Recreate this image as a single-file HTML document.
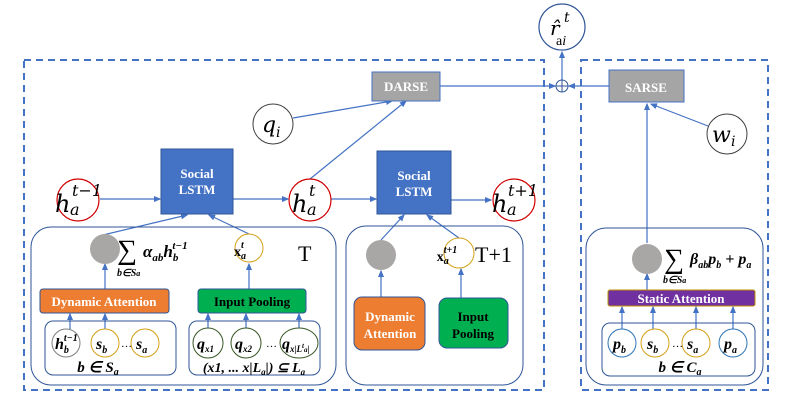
<!DOCTYPE html>
<html><head><meta charset="utf-8"><style>
html,body{margin:0;padding:0;background:#fff}
svg{display:block}
text{font-family:"Liberation Serif",serif}
.w{fill:#fff;font-weight:bold;text-anchor:middle}
.b{fill:#000;font-weight:bold;text-anchor:middle}
.m{font-style:italic;font-weight:bold;fill:#000}
.mi{font-family:"DejaVu Serif",serif;font-style:italic;fill:#000}
</style></head><body>
<svg width="787" height="404" viewBox="0 0 787 404" xmlns="http://www.w3.org/2000/svg">
<defs><marker id="a" markerWidth="6" markerHeight="6" refX="5" refY="3" orient="auto"><path d="M0,0.5 L6,3 L0,5.5z" fill="#4472c4"/></marker></defs>
<g fill="none" stroke="#4472c4" stroke-width="2" stroke-dasharray="7,5">
<rect x="24" y="60" width="520" height="330"/>
<rect x="581" y="60" width="187" height="330"/>
</g>
<g stroke="#4472c4" stroke-width="1.2" fill="none" marker-end="url(#a)">
<line x1="562" y1="80" x2="562" y2="52"/>
<line x1="440" y1="86" x2="555" y2="86"/>
<line x1="609" y1="86" x2="569" y2="86"/>
<line x1="647" y1="243" x2="647" y2="104"/>
<line x1="708" y1="126" x2="651" y2="104"/>
<line x1="293" y1="118" x2="392" y2="101"/>
<line x1="310" y1="179" x2="406" y2="101"/>
<line x1="100" y1="199" x2="160" y2="199"/>
<line x1="233" y1="199" x2="288" y2="199"/>
<line x1="331" y1="199" x2="376" y2="199"/>
<line x1="451" y1="200" x2="491" y2="200"/>
<line x1="103" y1="235" x2="187" y2="215"/>
<line x1="249" y1="234" x2="209" y2="215"/>
<line x1="381" y1="240" x2="404" y2="215"/>
<line x1="459" y1="238" x2="427" y2="215"/>
<line x1="105" y1="289" x2="105" y2="264"/>
<line x1="249" y1="289" x2="249" y2="264"/>
<line x1="381" y1="297" x2="381" y2="271"/>
<line x1="461" y1="298" x2="461" y2="269"/>
<line x1="647" y1="290" x2="647" y2="274"/>
<line x1="70" y1="329" x2="70" y2="314"/>
<line x1="105" y1="329" x2="105" y2="314"/>
<line x1="208" y1="329" x2="208" y2="314"/>
<line x1="246" y1="329" x2="246" y2="314"/>
<line x1="299" y1="329" x2="299" y2="314"/>
<line x1="622" y1="329" x2="622" y2="307"/>
<line x1="653" y1="329" x2="653" y2="307"/>
<line x1="696" y1="329" x2="696" y2="307"/>
<line x1="733" y1="329" x2="733" y2="307"/>
</g>
<circle cx="562" cy="27" r="23" fill="#fff" stroke="#2f5597" stroke-width="1.2"/>
<text x="550" y="35" class="mi" font-size="20">r̂</text><text x="564" y="22" class="mi" font-size="14">t</text><text x="556" y="45" font-family="Liberation Serif" font-size="14" fill="#000">a<tspan font-style="italic">i</tspan></text>
<circle cx="562" cy="86" r="6" fill="#fff" stroke="#2f5597"/><line x1="556" y1="86" x2="568" y2="86" stroke="#2f5597"/><line x1="562" y1="80" x2="562" y2="92" stroke="#2f5597"/>
<rect x="372" y="72" width="68" height="29" fill="#a5a5a5" stroke="#4472c4"/><text x="406" y="91" class="w" font-size="13">DARSE</text>
<rect x="609" y="70" width="75" height="32" fill="#a5a5a5" stroke="#4472c4"/><text x="646" y="92" class="w" font-size="13">SARSE</text>
<circle cx="727" cy="134" r="20" fill="#fff" stroke="#404040"/><text x="712" y="142" class="mi" font-size="22">w</text><text x="731" y="146" class="mi" font-size="14">i</text>
<circle cx="273" cy="124" r="20" fill="#fff" stroke="#404040"/><text x="262" y="132" class="mi" font-size="22">q</text><text x="276" y="137" class="mi" font-size="14">i</text>
<rect x="161" y="149" width="72" height="65" fill="#4472c4" stroke="#2f5597"/><text x="197" y="178" class="w" font-size="13">Social</text><text x="197" y="194" class="w" font-size="13">LSTM</text>
<rect x="377" y="151" width="74" height="63" fill="#4472c4" stroke="#2f5597"/><text x="414" y="180" class="w" font-size="13">Social</text><text x="414" y="196" class="w" font-size="13">LSTM</text>
<g fill="#fff" stroke="#d00000" stroke-width="1.2"><circle cx="78" cy="200" r="21"/><circle cx="310" cy="200" r="21"/><circle cx="514" cy="200" r="21"/></g>
<text x="55" y="212" class="mi" font-size="24">h</text><text x="70" y="215" class="mi" font-size="16">a</text><text x="72" y="196" class="mi" font-size="16">t−1</text>
<text x="292" y="212" class="mi" font-size="24">h</text><text x="307" y="215" class="mi" font-size="16">a</text><text x="309" y="196" class="mi" font-size="16">t</text>
<text x="492" y="212" class="mi" font-size="24">h</text><text x="507" y="215" class="mi" font-size="16">a</text><text x="508" y="196" class="mi" font-size="16">t+1</text>
<g fill="none" stroke="#2f5597" stroke-width="1"><rect x="31" y="227" width="305" height="158" rx="20"/><rect x="346" y="226" width="177" height="159" rx="20"/><rect x="586" y="228" width="177" height="157" rx="20"/>
<rect x="45" y="321" width="131" height="54" rx="8"/><rect x="189" y="321" width="131" height="54" rx="8"/><rect x="602" y="323" width="153" height="53" rx="8"/></g>
<g fill="#a9a6a6"><circle cx="105" cy="249" r="15"/><circle cx="381" cy="255" r="15"/><circle cx="647" cy="259" r="15"/></g>
<text x="117" y="259" font-size="28" fill="#000">∑</text><text x="117" y="276" class="m" font-size="10">b∈S<tspan font-size="8">a</tspan></text>
<text x="143" y="257" class="m" font-size="17">α<tspan font-size="11" dy="4">ab</tspan><tspan font-size="17" dy="-4">h</tspan><tspan font-size="11" dy="4">b</tspan><tspan font-size="11" dx="-6" dy="-12">t−1</tspan></text>
<text x="664" y="268" font-size="28" fill="#000">∑</text><text x="663" y="283" class="m" font-size="10">b∈S<tspan font-size="8">a</tspan></text>
<text x="690" y="264" class="m" font-size="16">β<tspan font-size="10" dy="4">ab</tspan><tspan font-size="16" dy="-4">p</tspan><tspan font-size="10" dy="4">b</tspan><tspan font-size="16" dy="-4"> + p</tspan><tspan font-size="10" dy="4">a</tspan></text>
<g fill="#fff" stroke="#d4a017"><circle cx="249" cy="248" r="14"/><circle cx="459" cy="253" r="15"/></g>
<text x="240" y="256" class="b" font-size="14" text-anchor="start">x<tspan class="m" font-size="10" dy="3">a</tspan><tspan class="m" font-size="10" dx="-5" dy="-11">t</tspan></text>
<text x="447" y="261" class="b" font-size="14" text-anchor="start">x<tspan class="m" font-size="10" dy="3">a</tspan><tspan class="m" font-size="10" dx="-5" dy="-11">t+1</tspan></text>
<text x="298" y="261" font-size="22" fill="#000">T</text><text x="475" y="262" font-size="22" fill="#000">T+1</text>
<rect x="40" y="289" width="129" height="24" rx="3" fill="#ed7d31" stroke="#2f5597"/><text x="104" y="306" class="w" font-size="13">Dynamic  Attention</text>
<rect x="198" y="289" width="108" height="24" rx="3" fill="#00b050" stroke="#2f5597"/><text x="252" y="306" class="b" font-size="13">Input Pooling</text>
<rect x="354" y="297" width="71" height="53" rx="8" fill="#ed7d31" stroke="#2f5597"/><text x="390" y="321" class="w" font-size="13">Dynamic</text><text x="390" y="338" class="w" font-size="13">Attention</text>
<rect x="439" y="298" width="69" height="50" rx="8" fill="#00b050" stroke="#2f5597"/><text x="473" y="321" class="b" font-size="13">Input</text><text x="473" y="338" class="b" font-size="13">Pooling</text>
<rect x="608" y="290" width="147" height="16" rx="2" fill="#7030a0" stroke="#bf9000"/><text x="681" y="303" class="w" font-size="13">Static Attention</text>
<circle cx="66" cy="343" r="14" fill="#fff" stroke="#808080"/><circle cx="105" cy="343" r="14" fill="#fff" stroke="#d4a017"/><circle cx="145" cy="343" r="14" fill="#fff" stroke="#d4a017"/>
<text x="55" y="349" class="m" font-size="16">h<tspan font-size="10" dy="4">b</tspan><tspan font-size="10" dx="-5" dy="-12">t−1</tspan></text>
<text x="96" y="349" class="m" font-size="16">s<tspan font-size="10" dy="4">b</tspan></text><text x="121" y="347" font-size="11" fill="#000">…</text><text x="136" y="349" class="m" font-size="16">s<tspan font-size="10" dy="4">a</tspan></text>
<text x="98" y="372" class="m" font-size="15" text-anchor="middle">b ∈ S<tspan font-size="10" dy="3">a</tspan></text>
<g fill="#fff" stroke="#375623"><ellipse cx="208" cy="343" rx="15" ry="15"/><ellipse cx="246" cy="343" rx="15" ry="15"/><ellipse cx="299" cy="343" rx="19" ry="15"/></g>
<text x="197" y="349" class="m" font-size="16">q<tspan font-size="9" dy="3">x1</tspan></text><text x="235" y="349" class="m" font-size="16">q<tspan font-size="9" dy="3">x2</tspan></text>
<text x="266" y="347" font-size="11" fill="#000">…</text><text x="282" y="349" class="m" font-size="16">q<tspan font-size="9" dy="3">x|L<tspan font-size="7" dy="-4">t</tspan><tspan font-size="7" dy="4">a</tspan>|</tspan></text>
<text x="254" y="372" class="m" font-size="14" text-anchor="middle">(x1, ... x|L<tspan font-size="9" dy="3">a</tspan><tspan dy="-3">|) ⊆ L</tspan><tspan font-size="9" dy="3">a</tspan></text>
<g fill="#fff" stroke="#2e75b6"><circle cx="622" cy="343" r="14"/><circle cx="733" cy="343" r="14"/></g><g fill="#fff" stroke="#d4a017"><circle cx="655" cy="343" r="14"/><circle cx="696" cy="343" r="14"/></g>
<text x="613" y="349" class="m" font-size="16">p<tspan font-size="10" dy="4">b</tspan></text><text x="647" y="349" class="m" font-size="16">s<tspan font-size="10" dy="4">b</tspan></text>
<text x="672" y="347" font-size="11" fill="#000">…</text><text x="687" y="349" class="m" font-size="16">s<tspan font-size="10" dy="4">a</tspan></text><text x="724" y="349" class="m" font-size="16">p<tspan font-size="10" dy="4">a</tspan></text>
<text x="680" y="372" class="m" font-size="15" text-anchor="middle">b ∈ C<tspan font-size="10" dy="3">a</tspan></text>
</svg>
</body></html>
